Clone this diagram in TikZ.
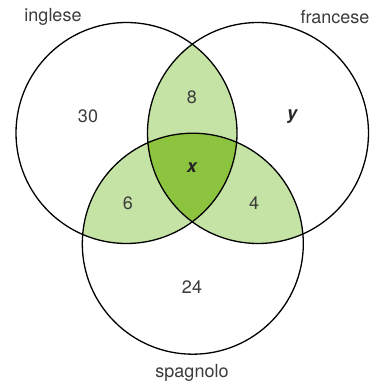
\documentclass[tikz,border=0pt]{standalone}
\usepackage{fontspec}
\setmainfont{TeX Gyre Heros}
\definecolor{lightg}{HTML}{C6E3A6}
\definecolor{darkg}{HTML}{8CC43F}
\definecolor{txt}{HTML}{3C3C3C}
\begin{document}
\begin{tikzpicture}[x=1pt,y=-1pt,
  ring/.style={draw=black,line width=1.3pt},
  lab/.style={text=txt,font=\fontsize{18}{20}\selectfont,inner sep=0pt},
  var/.style={text=black!85,font=\fontsize{18}{20}\selectfont\bfseries\itshape,inner sep=0pt}]
\useasboundingbox (0,0) rectangle (385,385);
\def\R{110.5}
\coordinate (cl) at (126.5,133);
\coordinate (cr) at (258,133);
\coordinate (cb) at (192.8,243.7);
% pairwise intersections
\begin{scope}
  \clip (cl) circle (\R);
  \fill[lightg] (cr) circle (\R);
  \fill[lightg] (cb) circle (\R);
\end{scope}
\begin{scope}
  \clip (cr) circle (\R);
  \fill[lightg] (cb) circle (\R);
\end{scope}
\begin{scope}
  \clip (cl) circle (\R);
  \clip (cr) circle (\R);
  \fill[darkg] (cb) circle (\R);
\end{scope}
\draw[ring] (cl) circle (\R);
\draw[ring] (cr) circle (\R);
\draw[ring] (cb) circle (\R);
% labels
\node[lab] (ing) at (53,17) {inglese};
\node[lab] (fra) at (335,17) {francese};
\node[lab] (spa) at (192,373) {spagnolo};
\node[lab] (n30) at (88,116) {30};
\node[lab] (n8) at (192,97) {8};
\node[var] (ny) at (292,117) {y};
\node[var] (nx) at (192,168) {x};
\node[lab] (n6) at (128,203) {6};
\node[lab] (n4) at (254,203) {4};
\node[lab] (n24) at (192,287) {24};
\end{tikzpicture}
\end{document}
